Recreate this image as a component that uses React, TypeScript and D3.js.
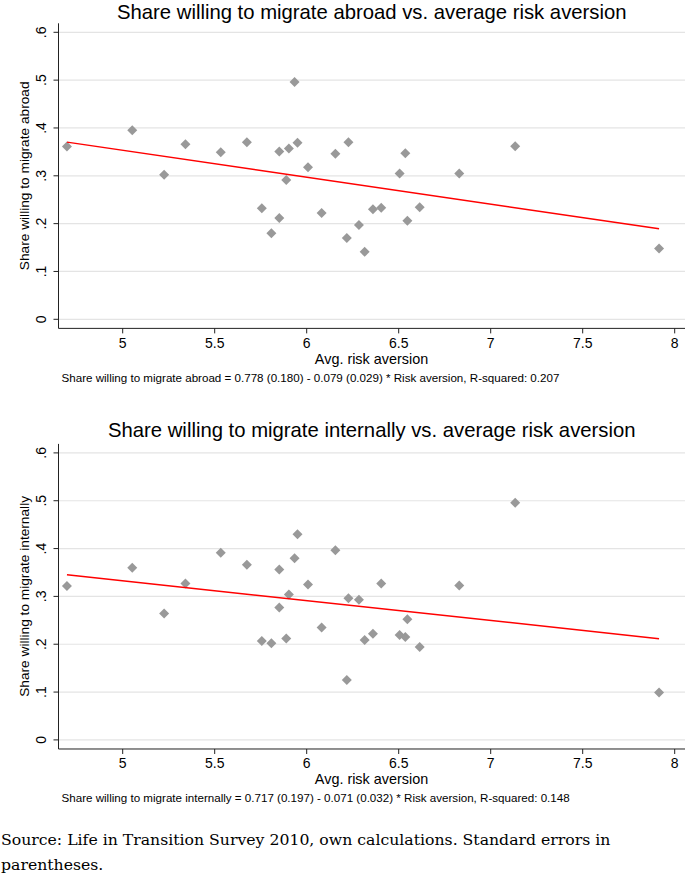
import React from "react";
import * as d3 from "d3";

// Average risk aversion per country (shared x values)
const riskAversion = [
  4.697, 5.052, 5.225, 5.341, 5.533, 5.675, 5.756, 5.808, 5.851, 5.851,
  5.889, 5.903, 5.934, 5.95, 6.007, 6.081, 6.156, 6.218, 6.227, 6.284,
  6.315, 6.36, 6.405, 6.505, 6.536, 6.547, 6.614, 6.829, 7.133, 7.915,
];
// Share willing to migrate abroad
const shareAbroad = [
  0.361, 0.395, 0.302, 0.366, 0.349, 0.37, 0.232, 0.18, 0.351, 0.212,
  0.291, 0.357, 0.496, 0.369, 0.318, 0.222, 0.346, 0.17, 0.37, 0.197,
  0.141, 0.23, 0.233, 0.305, 0.347, 0.206, 0.234, 0.305, 0.362, 0.148,
];
// Share willing to migrate internally
const shareInternal = [
  0.322, 0.36, 0.264, 0.327, 0.391, 0.366, 0.207, 0.202, 0.356, 0.277,
  0.212, 0.304, 0.38, 0.43, 0.325, 0.235, 0.3965, 0.125, 0.296, 0.293,
  0.209, 0.222, 0.327, 0.2195, 0.215, 0.252, 0.194, 0.323, 0.496, 0.099,
];

const xTicks = [5, 5.5, 6, 6.5, 7, 7.5, 8];
const yTicks = [0, 0.1, 0.2, 0.3, 0.4, 0.5, 0.6];
const yTickLabels = ["0", ".1", ".2", ".3", ".4", ".5", ".6"];

const titles = [
  "Share willing to migrate abroad vs. average risk aversion",
  "Share willing to migrate internally vs. average risk aversion",
];
const yTitles = ["Share willing to migrate abroad", "Share willing to migrate internally"];
const notes = [
  "Share willing to migrate abroad = 0.778 (0.180) - 0.079 (0.029) * Risk aversion, R-squared: 0.207",
  "Share willing to migrate internally = 0.717 (0.197) - 0.071 (0.032) * Risk aversion, R-squared: 0.148",
];
const sourceLines = [
  "Source: Life in Transition Survey 2010, own calculations. Standard errors in",
  "parentheses.",
];

const W = 685;
const H = 873;
const SANS = "'Liberation Sans', Arial, Helvetica, sans-serif";
const SERIF = "'DejaVu Serif', 'Liberation Serif', serif";

function ols(xs: number[], ys: number[]) {
  const mx = d3.mean(xs) as number;
  const my = d3.mean(ys) as number;
  let sxy = 0;
  let sxx = 0;
  xs.forEach((x, i) => {
    sxy += (x - mx) * (ys[i] - my);
    sxx += (x - mx) * (x - mx);
  });
  const b = sxy / sxx;
  return { a: my - b * mx, b };
}

const axisX = 58.5;

function Panel({ idx, ys, offset }: { idx: number; ys: number[]; offset: number }) {
  const x = d3.scaleLinear().domain([5, 8]).range([122.7, 674.7]);
  const y = d3.scaleLinear().domain([0, 0.6]).range([319.3 + offset, 32.3 + offset]);
  const axisY = y(-0.019);
  const axisTop = y(0.6) - 9;
  const fit = ols(riskAversion, ys);
  const xMin = d3.min(riskAversion) as number;
  const xMax = d3.max(riskAversion) as number;
  const line = d3
    .line<number>()
    .x((d) => x(d))
    .y((d) => y(fit.a + fit.b * d));
  const diamond = d3.symbol(d3.symbolSquare, 50)();
  const plotCenterX = (axisX + W) / 2;
  const plotCenterY = (y(0) + y(0.6)) / 2;
  const titleY = Math.max(16.4 + offset, 18.6);
  return (
    <g>
      <text
        x={plotCenterX}
        y={titleY}
        textAnchor="middle"
        fontFamily={SANS}
        fontSize={20.3}
        fill="#000"
      >
        {titles[idx]}
      </text>
      {yTicks.map((t) => (
        <line key={"g" + t} x1={axisX} x2={W} y1={y(t)} y2={y(t)} stroke="#e4e4e4" strokeWidth={1.2} />
      ))}
      {/* axes */}
      <line x1={axisX} x2={axisX} y1={axisTop} y2={axisY} stroke="#222" strokeWidth={1} />
      <line x1={axisX} x2={W} y1={axisY} y2={axisY} stroke="#222" strokeWidth={1} />
      {yTicks.map((t, i) => (
        <g key={"y" + t}>
          <line x1={axisX - 5} x2={axisX} y1={y(t)} y2={y(t)} stroke="#222" strokeWidth={1} />
          <text
            transform={`translate(${45.5},${y(t)}) rotate(-90)`}
            textAnchor="middle"
            fontFamily={SANS}
            fontSize={14}
            fill="#000"
          >
            {yTickLabels[i]}
          </text>
        </g>
      ))}
      {xTicks.map((t) => (
        <g key={"x" + t}>
          <line x1={x(t)} x2={x(t)} y1={axisY} y2={axisY + 5} stroke="#222" strokeWidth={1} />
          <text x={x(t)} y={axisY + 19.4} textAnchor="middle" fontFamily={SANS} fontSize={14} fill="#000">
            {t}
          </text>
        </g>
      ))}
      <text
        transform={`translate(${29},${plotCenterY}) rotate(-90)`}
        textAnchor="middle"
        fontFamily={SANS}
        fontSize={13.7}
        fill="#000"
      >
        {yTitles[idx]}
      </text>
      <text x={371.5} y={axisY + 35.2} textAnchor="middle" fontFamily={SANS} fontSize={14.4} fill="#000">
        Avg. risk aversion
      </text>
      <text x={61.5} y={axisY + 53.2} fontFamily={SANS} fontSize={11.6} fill="#000">
        {notes[idx]}
      </text>
      {riskAversion.map((rv, i) => (
        <path
          key={"p" + i}
          d={diamond as string}
          transform={`translate(${x(rv)},${y(ys[i])}) rotate(45)`}
          fill="#999999"
        />
      ))}
      <path d={line([xMin, xMax]) as string} fill="none" stroke="#ff0000" strokeWidth={1.5} />
    </g>
  );
}

export default function App() {
  return (
    <svg
      width={W}
      height={H}
      viewBox={`0 0 ${W} ${H}`}
      style={{ position: "absolute", left: 0, top: 0, background: "#fff" }}
    >
      <rect x={0} y={0} width={W} height={H} fill="#fff" />
      <Panel idx={0} ys={shareAbroad} offset={0} />
      <Panel idx={1} ys={shareInternal} offset={420.6} />
      {sourceLines.map((s, i) => (
        <text key={s} x={1} y={845 + i * 24.5} fontFamily={SERIF} fontSize={15.7} fill="#000">
          {s}
        </text>
      ))}
    </svg>
  );
}
